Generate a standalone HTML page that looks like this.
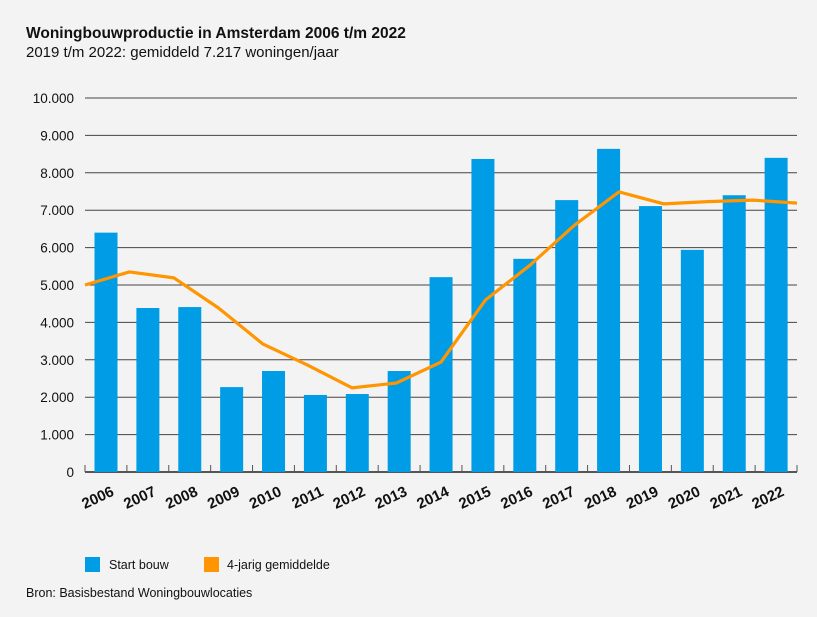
<!DOCTYPE html>
<html><head><meta charset="utf-8"><style>
body{margin:0;background:#f3f3f3;width:817px;height:612px;overflow:hidden;font-family:"Liberation Sans",sans-serif;}
</style></head><body>
<svg width="817" height="612" id="c">
<rect width="817" height="612" fill="#f3f3f3"/>
<text x="26" y="38" font-size="15.5" font-weight="bold" fill="#111">Woningbouwproductie in Amsterdam 2006 t/m 2022</text>
<text x="26" y="57" font-size="15" fill="#111">2019 t/m 2022: gemiddeld 7.217 woningen/jaar</text>
<g id="grid"></g><g id="bars"></g><g id="line"></g><g id="xl"></g>
<rect x="85" y="557" width="15" height="15" fill="#009de6"/>
<text x="109" y="569" font-size="12.5" fill="#111">Start bouw</text>
<rect x="204" y="557" width="15" height="15" fill="#ff9500"/>
<text x="227" y="569" font-size="12.5" fill="#111">4-jarig gemiddelde</text>
<text x="26" y="597" font-size="12.5" fill="#111">Bron: Basisbestand Woningbouwlocaties</text>
</svg>
<script>
const years=["2006","2007","2008","2009","2010","2011","2012","2013","2014","2015","2016","2017","2018","2019","2020","2021","2022"];
const startBouw=[6400,4385,4410,2270,2700,2060,2085,2700,5210,8370,5700,7270,8640,7110,5940,7400,8400];
const gemiddelde=[5000,5350,5190,4385,3420,2860,2250,2380,2940,4600,5530,6600,7490,7170,7230,7270,7190];
const yTicks=[0,1000,2000,3000,4000,5000,6000,7000,8000,9000,10000];
const yTickLabels=["0","1.000","2.000","3.000","4.000","5.000","6.000","7.000","8.000","9.000","10.000"];
const NS="http://www.w3.org/2000/svg";
const L=85,R=797,T=98,B=472;
const y=v=>B-(v/10000)*(B-T);
const bw=(R-L)/years.length;
const bx=i=>L+i*bw;
const lx=i=>L+i*(R-L)/(years.length-1);
function mk(tag,attrs,parent){const e=document.createElementNS(NS,tag);for(const k in attrs)e.setAttribute(k,attrs[k]);document.getElementById(parent).appendChild(e);return e;}
yTicks.forEach((t,i)=>{
 const g=mk("line",{x1:L,x2:R,y1:y(t),y2:y(t),stroke:i==0?"#222":"#444","stroke-width":i==0?1.5:1},"grid");
 
 
 const tx=mk("text",{x:74,y:y(t)+5,"font-size":13.5,"text-anchor":"end",fill:"#111"},"grid");
 tx.textContent=yTickLabels[i];
 
 
});
for(let i=0;i<=years.length;i++){
 const tk=mk("line",{x1:bx(i),x2:bx(i),y1:B-7,y2:B,stroke:"#555","stroke-width":1},"grid");
 
 
}
startBouw.forEach((v,i)=>{
 const r=mk("rect",{x:bx(i)+9.5,y:y(v),width:23,height:B-y(v),fill:"#009de6"},"bars");
 
 
 const t=mk("text",{x:0,y:0,"font-size":15,"font-weight":"bold","text-anchor":"end",fill:"#111",transform:`translate(${bx(i)+30},${495}) rotate(-25)`},"xl");
 t.textContent=years[i];
 
 
});
const p=mk("polyline",{points:gemiddelde.map((v,i)=>lx(i)+","+y(v)).join(" "),fill:"none",stroke:"#ff9500","stroke-width":3.2,"stroke-linejoin":"round"},"line");


</script>
</body></html>
